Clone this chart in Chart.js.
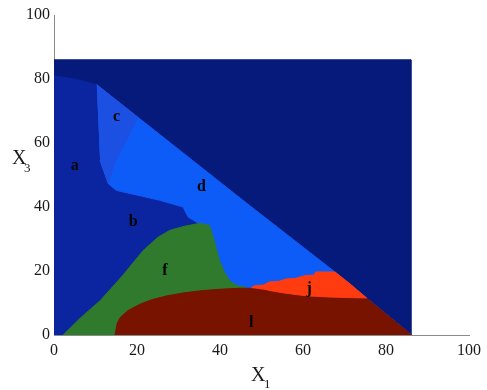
<!DOCTYPE html>
<html>
<head>
<meta charset="utf-8">
<script src="https://cdn.jsdelivr.net/npm/chart.js@4.4.1/dist/chart.umd.min.js"></script>
<style>
  html, body { margin: 0; padding: 0; background: #ffffff; }
  #wrap { width: 487px; height: 390px; position: relative; }
</style>
</head>
<body>
<div id="wrap"><canvas id="c" width="487" height="390"></canvas></div>
<script>
// ---- data (x1, x3) ----
const xTicks = [0, 20, 40, 60, 80, 100];
const yTicks = [0, 20, 40, 60, 80, 100];

const domainRect = [[0,0],[0,86],[86,86],[86,0]];
const regionAB = [[0,0],[0,81],[5,80],[10.3,78.2],[11.1,54.6],[13.1,47.3],[15,45.2],[25.5,42.1],[31.1,40],[32.3,36.9],[36,34],[42,16],[46,0]];
const regionD = [[10.3,78.2],[47.1,40.5],[67.6,19.8],[86.2,0],[40,0],[36,34],[32.3,36.9],[31.1,40],[25.5,42.1],[15,45.2],[13.1,47.3],[11.1,54.6]];
const regionC = [[10.3,78.2],[20.2,68.0],[17.5,61],[14.6,54],[13.6,49.5],[13.1,47.3],[11.1,54.6]];
const regionF = [[2.2,0],[6.5,5.5],[11.1,10.7],[16.5,18.5],[21.5,26.4],[25,30.5],[27.9,32.7],[31.5,34],[35.1,34.9],[37.5,34.2],[38.8,28.5],[39.9,23.2],[41,19.8],[42.3,17],[44,15.5],[46.5,14.8],[47,0]];
const regionL = [[14.7,0],[15.2,3.5],[15.9,5.4],[17.8,7.6],[20.7,9.6],[23.5,11.0],[27.1,12.2],[31,13.1],[35.1,13.8],[40,14.3],[44.7,14.6],[47.9,14.6],[51.5,14],[55.1,13.2],[58.5,12.6],[61.5,12.2],[66,11.9],[70.4,11.7],[75.3,11.6],[86.2,0]];
const regionJ = [[47.5,14.7],[48.3,15.4],[50.5,15.6],[51.9,16.6],[54,16.7],[55.9,17.5],[58.2,17.7],[60.7,18.6],[62.6,18.7],[63.1,19.7],[67.7,19.7],[71.5,15.8],[75.3,11.6],[70.4,11.7],[66,11.9],[61.5,12.2],[58.5,12.6],[55.1,13.2],[51.5,14]];

const regionLetters = ['a','b','c','d','f','j','l'];
const letterX = [5.0, 19.1, 15.1, 35.5, 26.7, 61.5, 47.5];
const letterY = [53.0, 35.3, 68.3, 46.3, 20.1, 14.3, 3.8];

const xTitle = 'X';
const xTitleSub = '1';
const yTitle = 'X';
const yTitleSub = '3';

// ---- build datasets ----
function pts(arr) { return arr.map(p => ({x: p[0], y: p[1]})); }
function poly(label, arr, color, order) {
  return {
    label: label,
    data: pts(arr),
    showLine: true,
    fill: 'shape',
    backgroundColor: color,
    borderColor: color,
    borderWidth: 1,
    pointRadius: 0,
    pointHoverRadius: 0,
    tension: 0,
    order: order
  };
}

const datasets = [
  poly('domain', domainRect, '#061a7c', 10),
  poly('a-b', regionAB, '#0b24a0', 9),
  poly('d', regionD, '#0e5cf8', 8),
  poly('c', regionC, '#1c50e2', 7),
  poly('f', regionF, '#2f7a2c', 6),
  poly('l', regionL, '#781300', 5),
  poly('j', regionJ, '#ff3b10', 4)
];

const overlayText = {
  id: 'overlayText',
  afterDatasetsDraw(chart) {
    const ctx = chart.ctx;
    const xs = chart.scales.x, ys = chart.scales.y;
    ctx.save();
    ctx.fillStyle = '#050505';
    ctx.font = 'bold 16px "Liberation Serif"';
    ctx.textAlign = 'center';
    ctx.textBaseline = 'middle';
    for (let i = 0; i < regionLetters.length; i++) {
      ctx.fillText(regionLetters[i], xs.getPixelForValue(letterX[i]), ys.getPixelForValue(letterY[i]));
    }
    ctx.restore();
  },
  afterDraw(chart) {
    const ctx = chart.ctx;
    ctx.save();
    ctx.fillStyle = '#1a1a1a';
    ctx.textBaseline = 'alphabetic';
    ctx.textAlign = 'left';
    // x title
    ctx.font = '20px "Liberation Serif"';
    ctx.fillText(xTitle, 251, 381);
    ctx.font = '13px "Liberation Serif"';
    ctx.fillText(xTitleSub, 264, 388);
    // y title
    ctx.font = '20px "Liberation Serif"';
    ctx.fillText(yTitle, 12, 164);
    ctx.font = '13px "Liberation Serif"';
    ctx.fillText(yTitleSub, 24, 172);
    ctx.restore();
  }
};

new Chart(document.getElementById('c'), {
  type: 'scatter',
  data: { datasets: datasets },
  options: {
    responsive: false,
    animation: false,
    events: [],
    layout: { padding: { left: 0, top: 15, right: 17, bottom: 0 } },
    plugins: { legend: { display: false }, tooltip: { enabled: false } },
    scales: {
      x: {
        type: 'linear', min: 0, max: 100,
        afterBuildTicks(s) { s.ticks = xTicks.map(v => ({value: v})); },
        afterFit(s) { s.height = 55; },
        ticks: { color: '#1a1a1a', padding: 6, maxRotation: 0, font: { family: 'Liberation Serif', size: 16 } },
        grid: { display: false, drawTicks: false },
        border: { display: true, color: '#8a8a8a', width: 1 }
      },
      y: {
        type: 'linear', min: 0, max: 100,
        afterBuildTicks(s) { s.ticks = yTicks.map(v => ({value: v})); },
        afterFit(s) { s.width = 54; },
        ticks: { color: '#1a1a1a', padding: 4, font: { family: 'Liberation Serif', size: 16 } },
        grid: { display: false, drawTicks: false },
        border: { display: true, color: '#8a8a8a', width: 1 }
      }
    }
  },
  plugins: [overlayText]
});
</script>
</body>
</html>
